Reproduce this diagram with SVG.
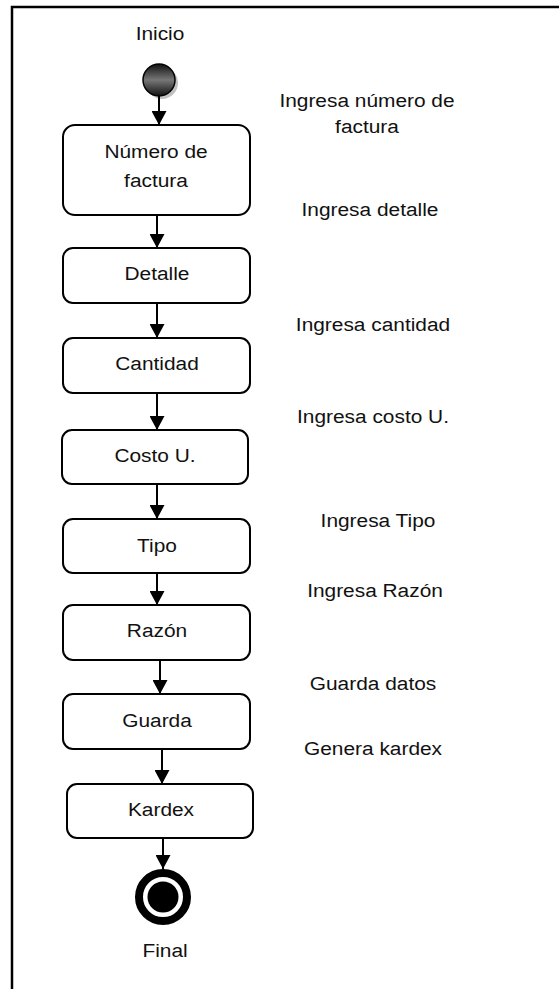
<svg xmlns="http://www.w3.org/2000/svg" width="559" height="989" viewBox="0 0 559 989">
<style>
.box{fill:#fff;stroke:#000;stroke-width:2}
.t{font-family:"Liberation Sans",Arial,sans-serif;font-size:18px;fill:#111;text-anchor:middle}
.c{stroke:#000;stroke-width:2;fill:none}
</style>
<defs>
<marker id="ah" markerUnits="userSpaceOnUse" markerWidth="16" markerHeight="15" refX="15" refY="8" orient="auto" viewBox="0 0 15 16">
<path d="M0,0 L15,8 L0,16 Z" fill="#000"/>
</marker>
<linearGradient id="g" x1="0" y1="0" x2="0" y2="1">
<stop offset="0" stop-color="#111"/>
<stop offset="0.5" stop-color="#777"/>
<stop offset="1" stop-color="#111"/>
</linearGradient>
</defs>
<rect x="12" y="7" width="600" height="1000" fill="#fff" stroke="#000" stroke-width="2.5"/>
<g id="start">
<circle cx="162" cy="83" r="16" fill="#999" opacity="0.6"/>
<circle cx="159" cy="80" r="16" fill="url(#g)" stroke="#000" stroke-width="1.5"/>
<text class="t" transform="translate(160,40) scale(1.16,1)">Inicio</text>
</g>
<g id="n1"><rect class="box" x="63" y="125" width="187" height="90" rx="12"/>
<text class="t" transform="translate(156,158) scale(1.16,1)">Número de</text>
<text class="t" transform="translate(156,187) scale(1.16,1)">factura</text></g>
<g id="n2"><rect class="box" x="63" y="248" width="187" height="55" rx="10"/>
<text class="t" transform="translate(157,280) scale(1.16,1)">Detalle</text></g>
<g id="n3"><rect class="box" x="63" y="338" width="187" height="55" rx="10"/>
<text class="t" transform="translate(157,370) scale(1.16,1)">Cantidad</text></g>
<g id="n4"><rect class="box" x="62" y="430" width="186" height="54" rx="10"/>
<text class="t" transform="translate(155,462) scale(1.16,1)">Costo U.</text></g>
<g id="n5"><rect class="box" x="63" y="519" width="187" height="54" rx="10"/>
<text class="t" transform="translate(157,552) scale(1.16,1)">Tipo</text></g>
<g id="n6"><rect class="box" x="63" y="605" width="187" height="55" rx="10"/>
<text class="t" transform="translate(157,637) scale(1.16,1)">Razón</text></g>
<g id="n7"><rect class="box" x="63" y="694" width="187" height="55" rx="10"/>
<text class="t" transform="translate(157,727) scale(1.16,1)">Guarda</text></g>
<g id="n8"><rect class="box" x="67" y="784" width="186" height="54" rx="10"/>
<text class="t" transform="translate(161,816) scale(1.16,1)">Kardex</text></g>
<g id="final">
<circle cx="163" cy="897" r="24" fill="none" stroke="#000" stroke-width="8"/>
<circle cx="163" cy="897" r="15.5" fill="#000"/>
<text class="t" transform="translate(165,957) scale(1.16,1)">Final</text>
</g>
<g id="labels">
<text class="t" transform="translate(367,107) scale(1.16,1)">Ingresa número de</text>
<text class="t" transform="translate(367,133) scale(1.16,1)">factura</text>
<text class="t" transform="translate(370,216) scale(1.16,1)">Ingresa detalle</text>
<text class="t" transform="translate(373,331) scale(1.16,1)">Ingresa cantidad</text>
<text class="t" transform="translate(373,423) scale(1.16,1)">Ingresa costo U.</text>
<text class="t" transform="translate(378,527) scale(1.16,1)">Ingresa Tipo</text>
<text class="t" transform="translate(375,597) scale(1.16,1)">Ingresa Razón</text>
<text class="t" transform="translate(373,690) scale(1.16,1)">Guarda datos</text>
<text class="t" transform="translate(373,755) scale(1.16,1)">Genera kardex</text>
</g>
<g id="connectors">
<line class="c" x1="159" y1="96" x2="159" y2="125" marker-end="url(#ah)"/>
<line class="c" x1="157" y1="215" x2="157" y2="248" marker-end="url(#ah)"/>
<line class="c" x1="157" y1="303" x2="157" y2="338" marker-end="url(#ah)"/>
<line class="c" x1="157" y1="393" x2="157" y2="430" marker-end="url(#ah)"/>
<line class="c" x1="157" y1="484" x2="157" y2="519" marker-end="url(#ah)"/>
<line class="c" x1="157" y1="573" x2="157" y2="605" marker-end="url(#ah)"/>
<line class="c" x1="160" y1="660" x2="160" y2="694" marker-end="url(#ah)"/>
<line class="c" x1="162" y1="749" x2="162" y2="784" marker-end="url(#ah)"/>
<line class="c" x1="163" y1="838" x2="163" y2="869" marker-end="url(#ah)"/>
</g>
</svg>
